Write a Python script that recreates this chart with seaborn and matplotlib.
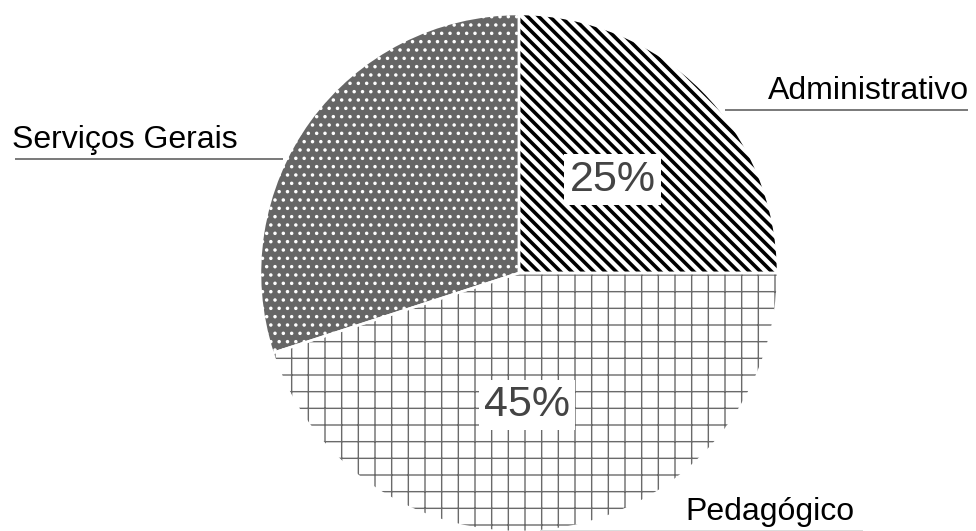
import matplotlib
matplotlib.use("Agg")
import matplotlib.pyplot as plt
import seaborn as sns

# ---- data ----
categories = ["Administrativo", "Pedagógico", "Serviços Gerais"]
values = [25, 45, 30]
show_pct = [True, True, False]

# ---- style ----
sns.set_theme(style="white")
plt.rcParams["font.family"] = ["Liberation Sans", "DejaVu Sans"]
plt.rcParams["hatch.linewidth"] = 2.5

W, H, DPI = 976, 531, 100
CX, CY, R = 519, 273, 259  # pie centre / radius in pixels


def px(x, y):
    return (x - CX) / R, (CY - y) / R


fig = plt.figure(figsize=(W / DPI, H / DPI), dpi=DPI)
ax = fig.add_axes([0, 0, 1, 1])

face = ["white", "white", "#666666"]
hatch = ["\\\\\\", "+", ".."]
hcol = ["black", "#6a6a6a", "white"]
hlw = [2.6, 1.0, 1.3]

wedges, _, autotexts = ax.pie(
    values, startangle=90, counterclock=False, radius=1,
    autopct=lambda p: f"{p:.0f}%", pctdistance=0.51,
    wedgeprops=dict(linewidth=0),
    textprops=dict(fontsize=31, color="#444444"),
)
for w, fc, h, hc, lw in zip(wedges, face, hatch, hcol, hlw):
    w.set_facecolor(fc)
    w.set_edgecolor(hc)
    w.set_linewidth(0)
    w.set_hatch(h)
    if hasattr(w, "set_hatch_linewidth"):
        w.set_hatch_linewidth(lw)
for t, show in zip(autotexts, show_pct):
    if show:
        t.set_bbox(dict(boxstyle="square,pad=0.12", facecolor="white", edgecolor="none"))
    else:
        t.set_visible(False)
# nudge the 45% label to where the reference places it
autotexts[1].set_position(px(527, 405))

# white separators between slices
ax.pie(values, startangle=90, counterclock=False, radius=1,
       wedgeprops=dict(fill=False, edgecolor="white", linewidth=1.8))

# outer labels with leader lines
lab = [
    # text, text x/y (px), line x0, x1, y (px), line colour
    ("Administrativo", (768, 99), (725, 968, 110), "#555555"),
    ("Pedagógico", (685, 520), (540, 863, 530.5), "#d0d0d0"),
    ("Serviços Gerais", (12, 148), (15, 283, 159), "#555555"),
]
for name, (tx, ty), (x0, x1, ly), lc in lab:
    ax.text(*px(tx, ty), name, fontsize=23, color="black", ha="left", va="baseline")
    a, b = px(x0, ly)
    c, _ = px(x1, ly)
    ax.plot([a, c], [b, b], color=lc, lw=1.1, solid_capstyle="butt")

ax.set_xlim(px(0, 0)[0], px(W, 0)[0])
ax.set_ylim(px(0, H)[1], px(0, 0)[1])
ax.axis("off")

fig.savefig("out.png", dpi=DPI, facecolor="white")
